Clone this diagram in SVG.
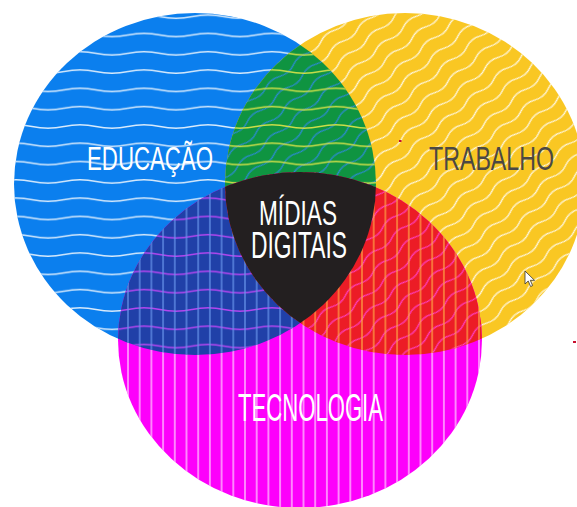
<svg xmlns="http://www.w3.org/2000/svg" width="577" height="507" viewBox="0 0 577 507">
<style>
.lbl{font-family:"Liberation Sans","DejaVu Sans Condensed",sans-serif;font-weight:normal}
.w{fill:none;stroke-width:1.3;stroke-linecap:round}
</style>
<defs>
<clipPath id="cBlue"><ellipse cx="195" cy="184" rx="181" ry="171"/></clipPath>
<clipPath id="cYellow"><ellipse cx="405" cy="184" rx="180" ry="171"/></clipPath>
<clipPath id="cMag"><ellipse cx="300" cy="340" rx="182" ry="168"/></clipPath>
<path id="hwave" d="M0 9.15 C10.7 6.9 21.3 6.9 32 9.15 C42.7 11.4 53.3 11.4 64 9.15"/>
<path id="dwave" d="M0 7 C6 4.2 12 4.2 18 7 C24 9.8 30 9.8 36 7"/>
<pattern id="hwWhite" patternUnits="userSpaceOnUse" x="0" y="7.55" width="64" height="18.3"><use href="#hwave" class="w" stroke="#ffffff" stroke-opacity="0.85"/></pattern>
<pattern id="hwGreen" patternUnits="userSpaceOnUse" x="0" y="7.55" width="64" height="18.3"><use href="#hwave" class="w" stroke="#cfdf48"/></pattern>
<pattern id="hwViolet" patternUnits="userSpaceOnUse" x="0" y="7.55" width="64" height="18.3"><use href="#hwave" class="w" stroke="#b845f2"/></pattern>
<pattern id="dwWhite" patternUnits="userSpaceOnUse" width="36" height="14" patternTransform="rotate(-40 405 184)"><use href="#dwave" class="w" stroke="#ffffff" stroke-opacity="0.9"/></pattern>
<pattern id="dwBlue" patternUnits="userSpaceOnUse" width="36" height="14" patternTransform="rotate(-40 405 184)"><use href="#dwave" class="w" stroke="#2c8ad8"/></pattern>
<pattern id="dwPink" patternUnits="userSpaceOnUse" width="36" height="14" patternTransform="rotate(-40 405 184)"><use href="#dwave" class="w" stroke="#ff40c4"/></pattern>
<pattern id="vlWhite" patternUnits="userSpaceOnUse" x="227.45" y="0" width="11.7" height="20"><line x1="5.85" y1="0" x2="5.85" y2="20" stroke="#ffffff" stroke-opacity="0.8" stroke-width="1.3"/></pattern>
<pattern id="vlBlue" patternUnits="userSpaceOnUse" x="227.45" y="0" width="11.7" height="20"><line x1="5.85" y1="0" x2="5.85" y2="20" stroke="#6b98ee" stroke-width="1.2"/></pattern>
<pattern id="vlOrange" patternUnits="userSpaceOnUse" x="227.45" y="0" width="11.7" height="20"><line x1="5.85" y1="0" x2="5.85" y2="20" stroke="#ffaa45" stroke-width="1.2"/></pattern>
</defs>
<rect width="577" height="507" fill="#ffffff"/>

<g id="educacao">
<ellipse cx="195" cy="184" rx="181" ry="171" fill="#0b7fee"/>
<rect x="0" y="0" width="577" height="507" fill="url(#hwWhite)" clip-path="url(#cBlue)"/>
</g>
<g id="trabalho">
<ellipse cx="405" cy="184" rx="180" ry="171" fill="#f9c723"/>
<rect x="0" y="0" width="577" height="507" fill="url(#dwWhite)" clip-path="url(#cYellow)"/>
</g>
<g id="tecnologia">
<ellipse cx="300" cy="340" rx="182" ry="168" fill="#fd00fb"/>
<rect x="0" y="0" width="577" height="507" fill="url(#vlWhite)" clip-path="url(#cMag)"/>
</g>

<g id="overlap-educacao-trabalho" clip-path="url(#cBlue)">
<g clip-path="url(#cYellow)">
<rect x="0" y="0" width="577" height="507" fill="#0f9441"/>
<rect x="0" y="0" width="577" height="507" fill="url(#dwBlue)"/>
<rect x="0" y="0" width="577" height="507" fill="url(#hwGreen)"/>
</g>
</g>
<g id="overlap-educacao-tecnologia" clip-path="url(#cBlue)">
<g clip-path="url(#cMag)">
<rect x="0" y="0" width="577" height="507" fill="#2040a8"/>
<rect x="0" y="0" width="577" height="507" fill="url(#hwViolet)"/>
<rect x="0" y="0" width="577" height="507" fill="url(#vlBlue)"/>
</g>
</g>
<g id="overlap-trabalho-tecnologia" clip-path="url(#cYellow)">
<g clip-path="url(#cMag)">
<rect x="0" y="0" width="577" height="507" fill="#ec1c26"/>
<rect x="0" y="0" width="577" height="507" fill="url(#dwPink)"/>
<rect x="0" y="0" width="577" height="507" fill="url(#vlOrange)"/>
</g>
</g>
<g id="midias-digitais">
<g clip-path="url(#cBlue)"><g clip-path="url(#cYellow)">
<ellipse cx="300" cy="340" rx="182" ry="168" fill="#231f20"/>
</g></g>
<text class="lbl" x="259" y="225" font-size="35" fill="#ffffff" textLength="78" lengthAdjust="spacingAndGlyphs">MÍDIAS</text>
<text class="lbl" x="251" y="258" font-size="36" fill="#ffffff" textLength="96" lengthAdjust="spacingAndGlyphs">DIGITAIS</text>
</g>

<g id="labels">
<text class="lbl" x="87" y="170" font-size="34" fill="#ffffff" textLength="126" lengthAdjust="spacingAndGlyphs">EDUCAÇÃO</text>
<text class="lbl" x="429" y="170" font-size="34" fill="#4b4843" textLength="125" lengthAdjust="spacingAndGlyphs">TRABALHO</text>
<text class="lbl" x="238" y="421" font-size="38" fill="#ffffff" textLength="145" lengthAdjust="spacingAndGlyphs">TECNOLOGIA</text>
</g>

<g id="marks">
<rect x="399" y="140" width="2.5" height="2" fill="#c8102e"/>
<rect x="573" y="341" width="3" height="2" fill="#c8102e"/>
<polygon points="525,271 525,284 528.2,281 530.6,286.5 532.6,285.6 530.3,280.3 534.5,280.3" fill="#ffffff" stroke="#333333" stroke-width="0.8" stroke-linejoin="round"/>
</g>
</svg>
